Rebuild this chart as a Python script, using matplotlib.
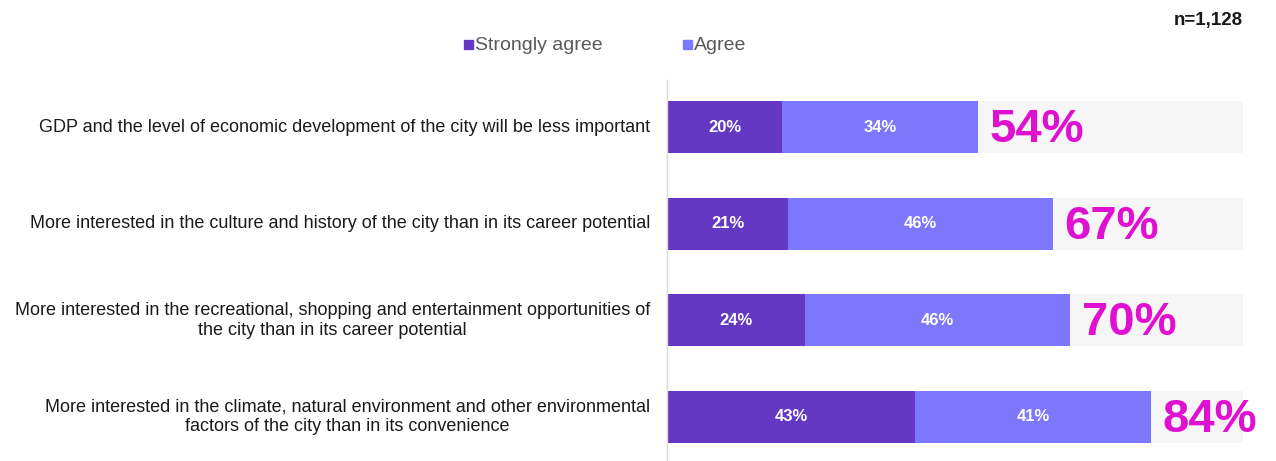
import matplotlib
matplotlib.use('Agg')
import matplotlib.pyplot as plt
from matplotlib.patches import Rectangle

statements = [
    'GDP and the level of economic development of the city will be less important',
    'More interested in the culture and history of the city than in its career potential',
    'More interested in the recreational, shopping and entertainment opportunities of\nthe city than in its career potential',
    'More interested in the climate, natural environment and other environmental\nfactors of the city than in its convenience',
]
strongly_agree = [20, 21, 24, 43]
agree = [34, 46, 46, 41]
sample_note = 'n=1,128'

dark = '#6438C3'
light = '#7D77FB'
pink = '#E010D0'
track = '#F5F6F5'

plt.rcParams['font.family'] = ['Liberation Sans', 'DejaVu Sans']

fig = plt.figure(figsize=(12.76, 4.61), dpi=100)
ax = fig.add_axes([667 / 1276, 0, 605 / 1276, 381 / 461])

pos = list(range(len(statements)))
h = 0.54
ax.barh(pos, [100] * len(pos), height=h, color=track, zorder=1)
ax.barh(pos, strongly_agree, height=h, color=dark, zorder=2)
ax.barh(pos, agree, left=strongly_agree, height=h, color=light, zorder=2)

for i, (sa, a) in enumerate(zip(strongly_agree, agree)):
    ax.text(sa / 2, i, f'{sa}%', ha='center', va='center', color='white',
            fontsize=12, fontweight='bold', zorder=3)
    ax.text(sa + a / 2, i, f'{a}%', ha='center', va='center', color='white',
            fontsize=12, fontweight='bold', zorder=3)
    ax.text(sa + a + 2, i + 0.03, f'{sa + a}%', ha='left', va='center', color=pink,
            fontsize=34, fontweight='bold', zorder=3)
    ax.text(-2.9, i, statements[i], ha='right', va='center', ma='center',
            color='#1A1A1A', fontsize=13, linespacing=1.25)

ax.set_xlim(0, 105)
ax.set_ylim(3.46, -0.49)
for s in ['top', 'right', 'bottom']:
    ax.spines[s].set_visible(False)
ax.spines['left'].set_color('#D9D9D9')
ax.spines['left'].set_linewidth(1)
ax.set_xticks([])
ax.set_yticks([])
ax.patch.set_alpha(0)

# legend drawn as squares plus labels along the top
for x0, lab, col in [(464, 'Strongly agree', dark), (683, 'Agree', light)]:
    fig.patches.append(Rectangle((x0 / 1276, (461 - 49) / 461), 9 / 1276, 9 / 461,
                                 transform=fig.transFigure, color=col))
    fig.text((x0 + 11) / 1276, (461 - 45) / 461, lab, ha='left', va='center',
             color='#595959', fontsize=14)

fig.text(1243 / 1276, (461 - 21) / 461, sample_note, ha='right', va='center',
         fontsize=13.5, fontweight='bold', color='#1A1A1A')

fig.savefig('out.png', dpi=100, facecolor='white')
